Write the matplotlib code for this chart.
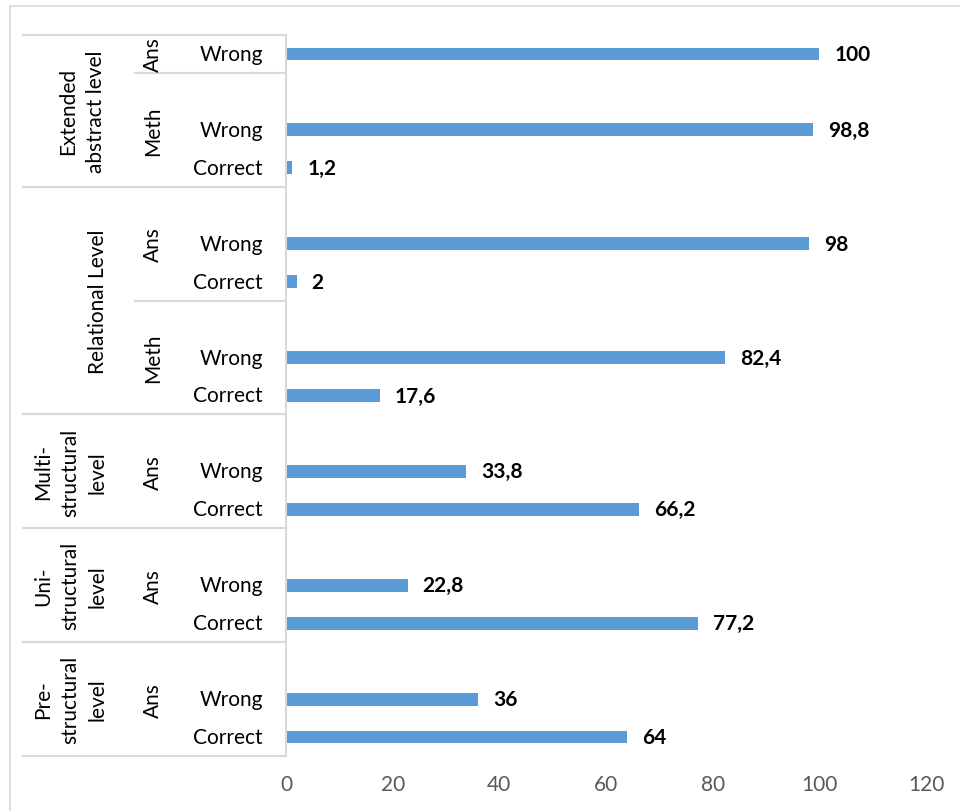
import numpy as np
import matplotlib
matplotlib.use("Agg")
import matplotlib.pyplot as plt
from matplotlib.patches import Rectangle
from matplotlib.lines import Line2D

plt.rcParams['font.family'] = ['Lato', 'DejaVu Sans']

# ---- data ----
answer_labels = ["Wrong", "", "Wrong", "Correct", "", "Wrong", "Correct", "", "Wrong", "Correct",
                 "", "Wrong", "Correct", "", "Wrong", "Correct", "", "Wrong", "Correct"]
values = [100, np.nan, 98.8, 1.2, np.nan, 98, 2, np.nan, 82.4, 17.6,
          np.nan, 33.8, 66.2, np.nan, 22.8, 77.2, np.nan, 36, 64]
type_groups = [("Ans", 0, 0), ("Meth", 1, 3), ("Ans", 4, 6), ("Meth", 7, 9),
               ("Ans", 10, 12), ("Ans", 13, 15), ("Ans", 16, 18)]
level_groups = [("Extended\nabstract level", 0, 3), ("Relational Level", 4, 9),
                ("Multi-\nstructural\nlevel", 10, 12), ("Uni-\nstructural\nlevel", 13, 15),
                ("Pre-\nstructural\nlevel", 16, 18)]
x_ticks = [0, 20, 40, 60, 80, 100, 120]

# ---- layout ----
W, H = 960, 812
fig = plt.figure(figsize=(W / 100, H / 100), dpi=100)
ax_left, ax_right, ax_top, ax_bottom = 286, 926, 36, 757
ax = fig.add_axes([ax_left / W, 1 - ax_bottom / H, (ax_right - ax_left) / W, (ax_bottom - ax_top) / H])

FS = 15
bar_color = "#5B9BD5"
grid_col = "#D9D9D9"
n = len(values)
y = np.arange(n)
ax.barh(y, values, height=0.34, color=bar_color)
ax.set_ylim(n - 0.5, -0.5)
ax.set_xlim(0, 120)
ax.set_xticks(x_ticks)
ax.set_xticklabels([str(t) for t in x_ticks], color="#595959", fontsize=FS)
ax.tick_params(axis='x', length=0, pad=13)
ax.set_yticks([])
for s in ["top", "right", "bottom"]:
    ax.spines[s].set_visible(False)
ax.spines["left"].set_color(grid_col)
ax.spines["left"].set_linewidth(1.5)

# data labels
for yi, v in zip(y, values):
    if np.isnan(v):
        continue
    txt = f"{v:g}".replace(".", ",")
    ax.annotate(txt, (v, yi), xytext=(15, 0), textcoords="offset pixels",
                ha="left", va="center", fontsize=FS, fontweight="bold", color="black")

# category labels (in axes-x / data-y coords)
tr = ax.get_yaxis_transform()
def axx(px):
    return (px - ax_left) / (ax_right - ax_left)

for yi, lab in zip(y, answer_labels):
    if lab:
        ax.text(axx(263), yi, lab, transform=tr, ha="right", va="center", fontsize=FS, color="black")

for name, a, b in type_groups:
    ax.text(axx(153), (a + b) / 2, name, transform=tr, ha="center", va="center",
            rotation=90, fontsize=FS, color="black")

level_x = [82, 98, 70, 70, 70]
for (name, a, b), px in zip(level_groups, level_x):
    ax.text(axx(px), (a + b) / 2, name, transform=tr, ha="center", va="center",
            rotation=90, fontsize=FS, color="black", multialignment="center", linespacing=1.45)

# separator lines
for name, a, b in level_groups:
    for edge in (a - 0.5, b + 0.5):
        ax.add_line(Line2D([axx(23), 0], [edge, edge], transform=tr, color=grid_col,
                           lw=1.5, clip_on=False))
for edge in (0.5, 6.5):
    ax.add_line(Line2D([axx(135), 0], [edge, edge], transform=tr, color=grid_col,
                       lw=1.5, clip_on=False))

# outer chart border
fig.patches.append(Rectangle((10 / W, -0.1), 1.2, 1 - 7 / H + 0.1, transform=fig.transFigure,
                             fill=False, edgecolor=grid_col, lw=1.2))

fig.savefig("out.png", dpi=100)
